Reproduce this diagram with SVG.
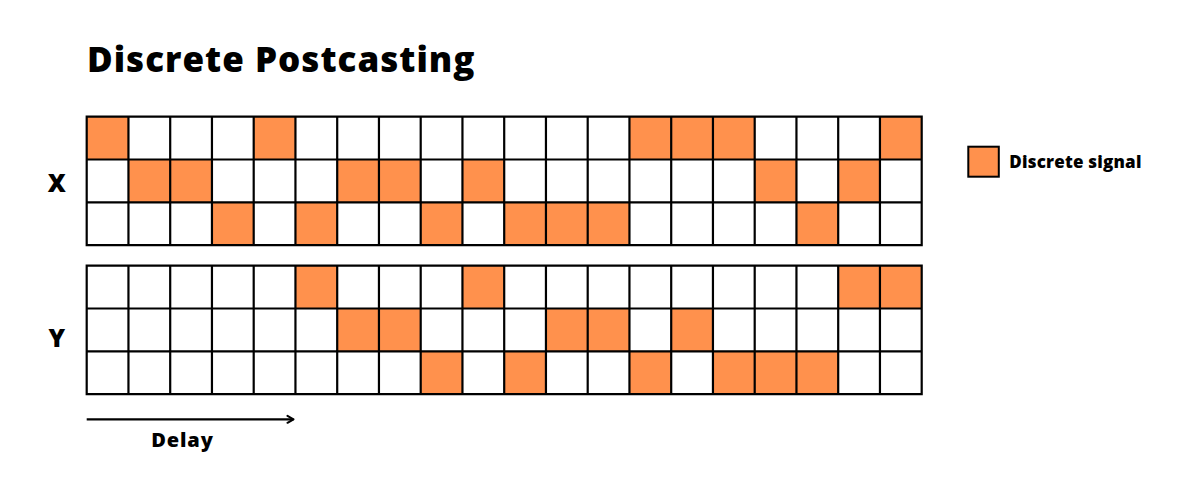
<svg xmlns="http://www.w3.org/2000/svg" width="1200" height="491" viewBox="0 0 1200 491">
<defs>
<style>
.t{font-family:"Open Sans","Liberation Sans",sans-serif;font-weight:800;fill:#000}
.on{fill:#FF914D}
.grid{fill:none;stroke:#000;stroke-width:2.2}
</style>
<marker id="ah" markerWidth="10" markerHeight="10" refX="8" refY="5" orient="auto" markerUnits="userSpaceOnUse">
<path d="M2,1.5 L8,5 L2,8.5" fill="none" stroke="#000" stroke-width="2" stroke-linecap="round" stroke-linejoin="round"/>
</marker>
</defs>
<rect width="1200" height="491" fill="#fff"/>
<g id="title"><text class="t" x="87" y="72" font-size="35" letter-spacing="1">Discrete Postcasting</text></g>

<g id="gridX" transform="translate(86.7,116.7)">
<g class="on">
<rect x="0" y="0" width="41.75" height="42.8"/>
<rect x="167" y="0" width="41.75" height="42.8"/>
<rect x="542.75" y="0" width="41.75" height="42.8"/>
<rect x="584.5" y="0" width="41.75" height="42.8"/>
<rect x="626.25" y="0" width="41.75" height="42.8"/>
<rect x="793.25" y="0" width="41.75" height="42.8"/>
<rect x="41.75" y="42.8" width="41.75" height="42.8"/>
<rect x="83.5" y="42.8" width="41.75" height="42.8"/>
<rect x="250.5" y="42.8" width="41.75" height="42.8"/>
<rect x="292.25" y="42.8" width="41.75" height="42.8"/>
<rect x="375.75" y="42.8" width="41.75" height="42.8"/>
<rect x="668" y="42.8" width="41.75" height="42.8"/>
<rect x="751.5" y="42.8" width="41.75" height="42.8"/>
<rect x="125.25" y="85.6" width="41.75" height="42.8"/>
<rect x="208.75" y="85.6" width="41.75" height="42.8"/>
<rect x="334" y="85.6" width="41.75" height="42.8"/>
<rect x="417.5" y="85.6" width="41.75" height="42.8"/>
<rect x="459.25" y="85.6" width="41.75" height="42.8"/>
<rect x="501" y="85.6" width="41.75" height="42.8"/>
<rect x="709.75" y="85.6" width="41.75" height="42.8"/>
</g>
<path class="grid" d="M0,0H835V128.4H0Z M0,42.8H835 M0,85.6H835 M41.75,0V128.4 M83.5,0V128.4 M125.25,0V128.4 M167,0V128.4 M208.75,0V128.4 M250.5,0V128.4 M292.25,0V128.4 M334,0V128.4 M375.75,0V128.4 M417.5,0V128.4 M459.25,0V128.4 M501,0V128.4 M542.75,0V128.4 M584.5,0V128.4 M626.25,0V128.4 M668,0V128.4 M709.75,0V128.4 M751.5,0V128.4 M793.25,0V128.4"/>
</g>

<g id="gridY" transform="translate(86.7,265.7)">
<g class="on">
<rect x="208.75" y="0" width="41.75" height="42.8"/>
<rect x="375.75" y="0" width="41.75" height="42.8"/>
<rect x="751.5" y="0" width="41.75" height="42.8"/>
<rect x="793.25" y="0" width="41.75" height="42.8"/>
<rect x="250.5" y="42.8" width="41.75" height="42.8"/>
<rect x="292.25" y="42.8" width="41.75" height="42.8"/>
<rect x="459.25" y="42.8" width="41.75" height="42.8"/>
<rect x="501" y="42.8" width="41.75" height="42.8"/>
<rect x="584.5" y="42.8" width="41.75" height="42.8"/>
<rect x="334" y="85.6" width="41.75" height="42.8"/>
<rect x="417.5" y="85.6" width="41.75" height="42.8"/>
<rect x="542.75" y="85.6" width="41.75" height="42.8"/>
<rect x="626.25" y="85.6" width="41.75" height="42.8"/>
<rect x="668" y="85.6" width="41.75" height="42.8"/>
<rect x="709.75" y="85.6" width="41.75" height="42.8"/>
</g>
<path class="grid" d="M0,0H835V128.4H0Z M0,42.8H835 M0,85.6H835 M41.75,0V128.4 M83.5,0V128.4 M125.25,0V128.4 M167,0V128.4 M208.75,0V128.4 M250.5,0V128.4 M292.25,0V128.4 M334,0V128.4 M375.75,0V128.4 M417.5,0V128.4 M459.25,0V128.4 M501,0V128.4 M542.75,0V128.4 M584.5,0V128.4 M626.25,0V128.4 M668,0V128.4 M709.75,0V128.4 M751.5,0V128.4 M793.25,0V128.4"/>
</g>

<g id="labelX"><text class="t" x="56.7" y="191.7" font-size="25" text-anchor="middle">X</text></g>
<g id="labelY"><text class="t" x="56.7" y="346.7" font-size="25" text-anchor="middle">Y</text></g>

<g id="connectors">
<line x1="86.7" y1="419.3" x2="293.5" y2="419.3" stroke="#000" stroke-width="2.2" marker-end="url(#ah)"/>
</g>
<g id="delay"><text class="t" x="182.5" y="446.7" font-size="20" letter-spacing="0.9" text-anchor="middle">Delay</text></g>

<g id="legend">
<rect x="968.3" y="146.7" width="30.5" height="30" fill="#FF914D" stroke="#000" stroke-width="2"/>
<text class="t" x="1009.3" y="167.7" font-size="17" letter-spacing="0.2">Discrete signal</text>
</g>
</svg>
